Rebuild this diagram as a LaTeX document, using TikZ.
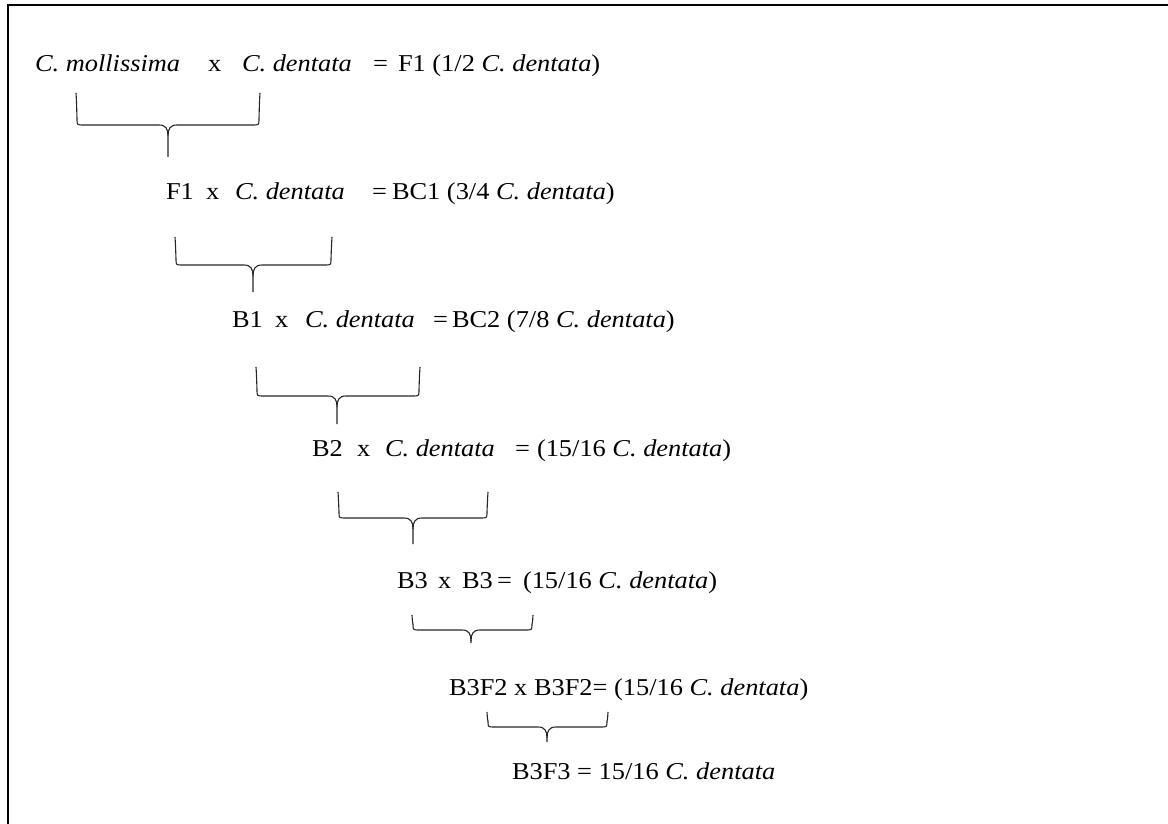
\documentclass[tikz,border=0pt]{standalone}
\usepackage{fontspec}
\setmainfont{Liberation Serif}[FakeStretch=1.09]
\tikzset{
  txt/.style={anchor=base west, inner sep=0pt, outer sep=0pt, font=\fontsize{24.2}{29}\selectfont},
  bracestyle/.style={draw=black!85, line width=1.1pt, line join=round},
  frameline/.style={draw=black, line width=2.4pt}
}
% #1 left x, #2 right x, #3 stem x, #4 top y, #5 bar y, #6 bottom y
\newcommand{\crossbrace}[6]{%
  \draw[bracestyle] (#1,#4) .. controls (#1+0.5,#4+8) .. (#1+1,#5-6)
    .. controls (#1+1,#5) .. (#1+7,#5) -- (#3-9,#5)
    .. controls (#3-2,#5) and (#3,#5+4) .. (#3,#5+11) -- (#3,#6);
  \draw[bracestyle] (#2,#4) .. controls (#2-0.5,#4+8) .. (#2-1,#5-6)
    .. controls (#2-1,#5) .. (#2-7,#5) -- (#3+9,#5)
    .. controls (#3+2,#5) and (#3,#5+4) .. (#3,#5+11);
}
\begin{document}
\begin{tikzpicture}[x=1pt, y=-1pt]
  \useasboundingbox (0,0) rectangle (1168,824);
  % open frame: top and left edges only
  \draw[frameline] (8,824) -- (8,5) -- (1168,5);

  % generation 0
  \node[txt] (p1)  at (35,72)  {\textit{C. mollissima}};
  \node[txt] (x1)  at (208,72) {x};
  \node[txt] (d1)  at (242,72) {\textit{C. dentata}};
  \node[txt] (e1)  at (373,72) {=};
  \node[txt] (r1)  at (398,72) {F1 (1/2 \textit{C. dentata})};
  \crossbrace{76}{260}{168}{93}{125}{157}

  % backcross 1
  \node[txt] (p2)  at (166,200) {F1};
  \node[txt] (x2)  at (206,200) {x};
  \node[txt] (d2)  at (235,200) {\textit{C. dentata}};
  \node[txt] (e2)  at (372,200) {=};
  \node[txt] (r2)  at (392,200) {BC1 (3/4 \textit{C. dentata})};
  \crossbrace{175}{332}{253}{237}{265}{292}

  % backcross 2
  \node[txt] (p3)  at (232,327) {B1};
  \node[txt] (x3)  at (275,327) {x};
  \node[txt] (d3)  at (305,327) {\textit{C. dentata}};
  \node[txt] (e3)  at (433,327) {=};
  \node[txt] (r3)  at (452,327) {BC2 (7/8 \textit{C. dentata})};
  \crossbrace{256}{420}{337}{367}{396}{424}

  % backcross 3
  \node[txt] (p4)  at (312,456) {B2};
  \node[txt] (x4)  at (357,456) {x};
  \node[txt] (d4)  at (385,456) {\textit{C. dentata}};
  \node[txt] (e4)  at (515,456) {=};
  \node[txt] (r4)  at (537,456) {(15/16 \textit{C. dentata})};
  \crossbrace{338}{488}{413}{492}{518}{544}

  % intercross B3
  \node[txt] (p5)  at (397,588) {B3};
  \node[txt] (x5)  at (438,588) {x};
  \node[txt] (d5)  at (462,588) {B3};
  \node[txt] (e5)  at (497,588) {=};
  \node[txt] (r5)  at (523,588) {(15/16 \textit{C. dentata})};
  \crossbrace{412}{533}{471}{615}{630}{643}

  % intercross B3F2
  \node[txt] (r6)  at (449,695) {B3F2 x B3F2= (15/16 \textit{C. dentata})};
  \crossbrace{487}{608}{547}{712}{727}{742}

  % final generation
  \node[txt] (r7)  at (512,779) {B3F3 = 15/16 \textit{C. dentata}};
\end{tikzpicture}
\end{document}
